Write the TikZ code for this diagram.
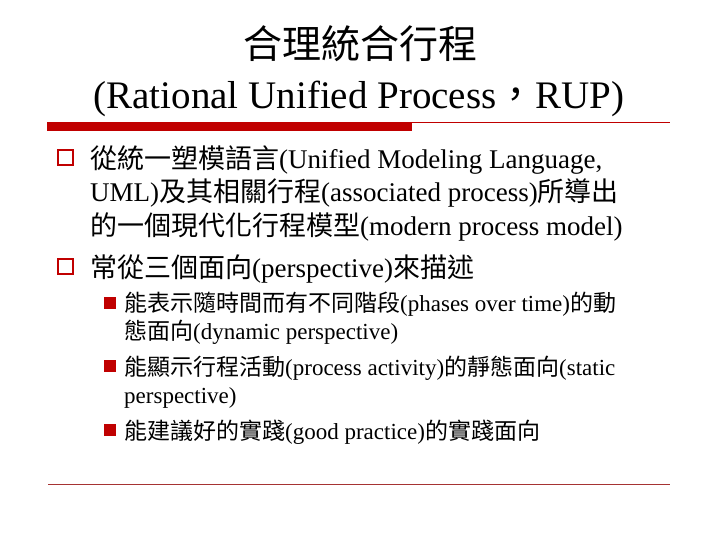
\documentclass[tikz,border=0pt]{standalone}
\usepackage{fontspec}
\setmainfont{Liberation Serif}
\newfontfamily\cjk{Noto Sans CJK TC}
\newcommand{\C}[1]{{\cjk #1}}
\definecolor{slidered}{RGB}{192,0,0}
\begin{document}
\begin{tikzpicture}[x=1pt,y=-1pt,
  lone/.style={anchor=base west,inner sep=0,font=\fontsize{27}{30}\selectfont},
  ltwo/.style={anchor=base west,inner sep=0,font=\fontsize{23}{26}\selectfont},
  title/.style={anchor=base,inner sep=0,font=\fontsize{39}{42}\selectfont}]
\useasboundingbox (0,0) rectangle (717,538);
\node[title] (t1) at (360,58) {\C{合理統合行程}};
\node[title] (t2) at (359,108) {(Rational Unified Process\C{，}RUP)};
\fill[slidered] (47,122) rectangle (412,131);
\draw[slidered,line width=0.8] (412,122.5) -- (670,122.5);
\draw[slidered!60!gray,line width=0.8] (48,484) -- (670,484);
% level 1 bullets
\draw[slidered,line width=2.5] (58,150) rectangle (73,165);
\draw[slidered,line width=2.5] (58,259) rectangle (73,274);
\node[lone] (a1) at (90,168) {\C{從統一塑模語言}(Unified Modeling Language,};
\node[lone] (a2) at (90,201) {UML)\C{及其相關行程}(associated process)\C{所導出}};
\node[lone] (a3) at (90,235) {\C{的一個現代化行程模型}(modern process model)};
\node[lone] (b1) at (90,277) {\C{常從三個面向}(perspective)\C{來描述}};
% level 2
\foreach \y in {297,360,424}{\fill[slidered] (104,\y) rectangle (116,\y+12);}
\node[ltwo] (c1) at (124,311) {\C{能表示隨時間而有不同階段}(phases over time)\C{的動}};
\node[ltwo] (c2) at (124,339) {\C{態面向}(dynamic perspective)};
\node[ltwo] (d1) at (124,375) {\C{能顯示行程活動}(process activity)\C{的靜態面向}(static};
\node[ltwo] (d2) at (124,403) {perspective)};
\node[ltwo] (e1) at (124,439) {\C{能建議好的實踐}(good practice)\C{的實踐面向}};
\end{tikzpicture}
\end{document}
